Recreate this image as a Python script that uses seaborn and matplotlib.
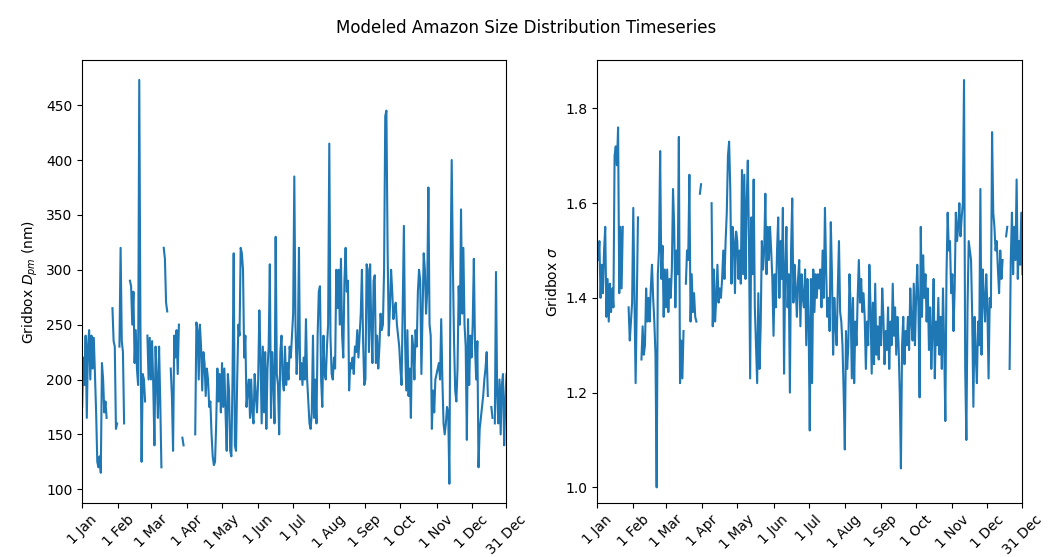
import numpy as np
import pandas as pd
import matplotlib
matplotlib.use("Agg")
import matplotlib.pyplot as plt
import seaborn as sns

nan = np.nan

# Gridbox Dpm (nm), one value per day, split by month (NaN = no data)
dpm_jan = [175, 220, 195, 240, 165, 230, 245, 200, 240, 210, 238, 205, 170,
           125, 120, 130, 115, 215, 200, 170, 180, 165, nan, nan, nan, nan,
           265, 235, 230, 155, 160]
dpm_feb = [nan, 230, 320, 235, 225, 160, nan, nan, nan, nan, 290, 285, 250, 280,
           215, 245, 210, 195, 473, 250, 125, 205, 200, 180, nan, 240, 200, 238]
dpm_mar = [200, 235, 195, 140, 230, 200, 165, 230, 180, 120, nan, 320, 310, 270,
           262, nan, nan, 210, 185, 135, 240, 220, 245, 205, 250, nan, nan, 147,
           140, nan, nan]
dpm_apr = [nan, nan, nan, nan, nan, nan, nan, 150, 252, 245, 200, 250, 230, 190,
           225, 215, 185, 210, 200, 175, 180, 150, 130, 122, 125, 160, 210, 180,
           205, 170]
dpm_may = [215, 175, 210, 170, 135, 205, 190, 135, 130, 200, 315, 140, 135, 200,
           250, 240, 320, 315, 300, 220, 240, 175, 190, 200, 165, 200, 170, 160,
           205, 185, 170]
dpm_jun = [200, 263, 220, 160, 230, 170, 225, 155, 210, 230, 305, 165, 225, 200,
           160, 330, 205, 195, 150, 225, 240, 200, 190, 230, 195, 215, 200, 230,
           220, 240]
dpm_jul = [260, 385, 250, 205, 230, 320, 200, 215, 195, 220, 200, 255, 200, 180,
           160, 155, 170, 240, 165, 200, 160, 240, 280, 285, 200, 175, 240, 205,
           200, 230, 250]
dpm_aug = [415, 240, 205, 200, 220, 210, 300, 265, 300, 250, 310, 240, 220, 290,
           320, 280, 290, 190, 215, 210, 220, 205, 230, 225, 245, 220, 240, 260,
           300, 235, 195]
dpm_sep = [200, 305, 300, 225, 305, 250, 215, 290, 295, 215, 240, 210, 230, 260,
           245, 250, 300, 440, 445, 320, 240, 265, 300, 280, 255, 265, 270, 250,
           240, 230]
dpm_oct = [210, 195, 270, 340, 235, 190, 245, 185, 210, 165, 240, 230, 200, 245,
           230, 280, 300, 290, 205, 260, 315, 300, 260, 280, 375, 250, 240, 155,
           190, 170, 200]
dpm_nov = [205, 210, 215, 200, 255, 200, 160, 150, 160, 175, 170, 105, 300, 400,
           305, 235, 190, 180, 210, 285, 250, 355, 260, 320, 250, 230, 145, 255,
           195, 240]
dpm_dec = [220, 250, 310, 230, 200, 235, 120, 155, 165, 175, 185, 200, 210, 225,
           185, nan, nan, 175, 165, nan, 160, 298, 185, 160, 200, 150, 195, 205,
           140, 180, 205]

# Gridbox sigma, one value per day, split by month
sig_jan = [1.52, 1.48, 1.52, 1.40, 1.47, 1.41, 1.50, 1.55, 1.36, 1.44, 1.35, 1.43,
           1.37, 1.42, 1.38, 1.70, 1.72, 1.68, 1.76, 1.41, 1.55, 1.42, 1.55, nan,
           nan, nan, nan, 1.38, 1.31, 1.35, 1.39]
sig_feb = [1.59, 1.40, 1.22, 1.39, 1.57, nan, nan, 1.27, 1.34, 1.28, 1.30, 1.42,
           1.35, 1.40, 1.35, 1.42, 1.47, 1.40, 1.35, 1.28, 1.00, 1.45, 1.50, 1.71,
           1.44, 1.51, 1.36, 1.46]
sig_mar = [1.38, 1.46, 1.37, 1.44, 1.40, 1.46, 1.63, 1.55, 1.38, 1.50, 1.45, 1.74,
           1.22, 1.31, 1.23, 1.33, nan, 1.43, 1.50, 1.48, 1.66, 1.35, 1.45, 1.37,
           1.41, 1.36, 1.35, nan, nan, 1.62, 1.64]
sig_apr = [nan, nan, nan, nan, nan, nan, nan, nan, 1.60, 1.34, 1.46, 1.35, 1.40,
           1.47, 1.39, 1.42, 1.40, 1.44, 1.50, 1.44, 1.52, 1.58, 1.70, 1.73, 1.63,
           1.43, 1.55, 1.52, 1.41, 1.54]
sig_may = [1.52, 1.44, 1.50, 1.43, 1.67, 1.45, 1.66, 1.44, 1.60, 1.69, 1.52, 1.23,
           1.57, 1.45, 1.65, 1.38, 1.30, 1.22, 1.41, 1.25, 1.34, 1.52, 1.46, 1.50,
           1.62, 1.45, 1.55, 1.48, 1.55, 1.50, 1.44]
sig_jun = [1.32, 1.45, 1.38, 1.50, 1.57, 1.40, 1.52, 1.44, 1.59, 1.24, 1.46, 1.55,
           1.38, 1.45, 1.20, 1.50, 1.61, 1.39, 1.47, 1.42, 1.36, 1.44, 1.48, 1.34,
           1.45, 1.40, 1.38, 1.46, 1.30, 1.44]
sig_jul = [1.35, 1.12, 1.44, 1.22, 1.46, 1.37, 1.45, 1.40, 1.45, 1.42, 1.46, 1.38,
           1.50, 1.40, 1.59, 1.46, 1.36, 1.40, 1.33, 1.56, 1.45, 1.28, 1.40, 1.34,
           1.30, 1.42, 1.52, 1.37, 1.35, 1.30, 1.20]
sig_aug = [1.08, 1.33, 1.25, 1.30, 1.45, 1.38, 1.23, 1.40, 1.22, 1.35, 1.30, 1.40,
           1.48, 1.39, 1.44, 1.37, 1.41, 1.36, 1.25, 1.35, 1.30, 1.47, 1.38, 1.24,
           1.39, 1.26, 1.43, 1.28, 1.34, 1.27, 1.36]
sig_sep = [1.30, 1.42, 1.36, 1.26, 1.33, 1.29, 1.38, 1.25, 1.35, 1.30, 1.43, 1.32,
           1.38, 1.28, 1.36, 1.30, 1.20, 1.04, 1.30, 1.36, 1.26, 1.33, 1.30, 1.36,
           1.29, 1.42, 1.35, 1.31, 1.43, 1.30]
sig_oct = [1.40, 1.47, 1.38, 1.19, 1.55, 1.36, 1.49, 1.40, 1.45, 1.35, 1.42, 1.29,
           1.38, 1.25, 1.33, 1.44, 1.23, 1.35, 1.30, 1.40, 1.28, 1.36, 1.25, 1.42,
           1.30, 1.14, 1.45, 1.58, 1.50, 1.52, 1.41]
sig_nov = [1.45, 1.33, 1.42, 1.58, 1.52, 1.55, 1.60, 1.53, 1.57, 1.60, 1.86, 1.25,
           1.10, 1.38, 1.52, 1.50, 1.48, 1.36, 1.17, 1.36, 1.28, 1.22, 1.35, 1.30,
           1.63, 1.28, 1.46, 1.40, 1.35, 1.45]
sig_dec = [1.38, 1.23, 1.40, 1.38, 1.75, 1.58, 1.55, 1.50, 1.52, 1.46, 1.41, 1.50,
           1.44, 1.48, nan, nan, 1.53, 1.55, nan, 1.25, 1.48, 1.58, 1.45, 1.55,
           1.48, 1.65, 1.44, 1.52, 1.47, 1.58, 1.45]

tick_days = [0, 31, 59, 90, 120, 151, 181, 212, 243, 273, 304, 334, 364]
tick_labels = ['1 Jan', '1 Feb', '1 Mar', '1 Apr', '1 May', '1 Jun', '1 Jul',
               '1 Aug', '1 Sep', '1 Oct', '1 Nov', '1 Dec', '31 Dec']

dpm = dpm_jan + dpm_feb + dpm_mar + dpm_apr + dpm_may + dpm_jun + dpm_jul + \
    dpm_aug + dpm_sep + dpm_oct + dpm_nov + dpm_dec
sig = sig_jan + sig_feb + sig_mar + sig_apr + sig_may + sig_jun + sig_jul + \
    sig_aug + sig_sep + sig_oct + sig_nov + sig_dec


def to_frame(values):
    # split into runs between missing days so the gaps stay visible
    df = pd.DataFrame({'day': np.arange(len(values)), 'val': values})
    df['seg'] = df['val'].isna().cumsum()
    return df.dropna()


df_dpm = to_frame(dpm)
df_sig = to_frame(sig)

fig = plt.figure(figsize=(10.53, 5.57), dpi=100)
ax1 = fig.add_axes([0.078, 0.097, 0.403, 0.795])
ax2 = fig.add_axes([0.567, 0.097, 0.404, 0.795])

sns.lineplot(data=df_dpm, x='day', y='val', units='seg', estimator=None,
             color='#1f77b4', linewidth=1.5, ax=ax1)
sns.lineplot(data=df_sig, x='day', y='val', units='seg', estimator=None,
             color='#1f77b4', linewidth=1.5, ax=ax2)

ax1.set_ylim(87.5, 491)
ax1.set_ylabel('Gridbox $D_{pm}$ (nm)')
ax2.set_ylim(0.967, 1.902)
ax2.set_ylabel('Gridbox $\\sigma$')

for ax in (ax1, ax2):
    ax.set_xlim(0, 364)
    ax.set_xticks(tick_days)
    ax.set_xticklabels(tick_labels, rotation=45)
    ax.set_xlabel('')

fig.suptitle('Modeled Amazon Size Distribution Timeseries', y=0.965)

fig.savefig('out.png', dpi=100)
